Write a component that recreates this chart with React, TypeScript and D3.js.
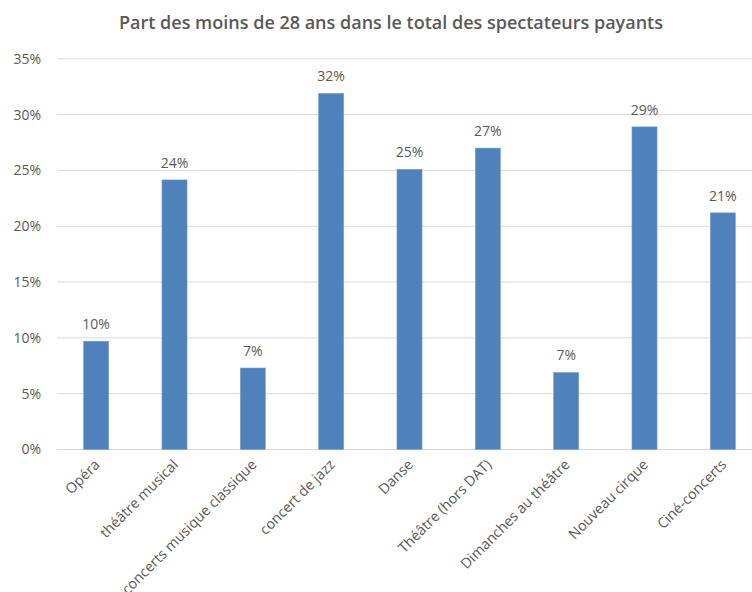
import React from "react";
import * as d3 from "d3";

const categories = [
  "Opéra",
  "théâtre musical",
  "concerts musique classique",
  "concert de jazz",
  "Danse",
  "Théâtre (hors DAT)",
  "Dimanches au théâtre",
  "Nouveau cirque",
  "Ciné-concerts",
];
const values = [0.097, 0.2415, 0.073, 0.319, 0.251, 0.27, 0.069, 0.289, 0.212];
const yTicks = [0, 0.05, 0.1, 0.15, 0.2, 0.25, 0.3, 0.35];
const title = "Part des moins de 28 ans dans le total des spectateurs payants";

const W = 752;
const H = 592;
const FONT = "'Open Sans', sans-serif";
const TXT = "#595959";

export default function App() {
  const x = d3.scaleBand<string>().domain(categories).range([57, 762]).paddingInner(0.68).paddingOuter(0.34);
  const y = d3.scaleLinear().domain([0, 0.35]).range([449.5, 58.8]);
  const pct = d3.format(".0%");
  return (
    <svg width={W} height={H} style={{ position: "absolute", left: 0, top: 0, background: "#fff" }}>
      <rect width={W} height={H} fill="#fff" />
      <text x={391} y={29} textAnchor="middle" fontFamily={FONT} fontSize={18} fontWeight={600} fill={TXT}>
        {title}
      </text>
      {yTicks.map((t) => (
        <g key={t}>
          <line x1={57} x2={752} y1={y(t)} y2={y(t)} stroke="#d9d9d9" strokeWidth={1} />
          <text x={41} y={y(t)} dy="0.35em" textAnchor="end" fontFamily={FONT} fontSize={14} fill={TXT}>
            {pct(t)}
          </text>
        </g>
      ))}
      {categories.map((c, i) => {
        const bx = x(c)!;
        const bw = x.bandwidth();
        const cx = bx + bw / 2;
        return (
          <g key={c}>
            <rect x={bx} y={y(values[i])} width={bw} height={y(0) - y(values[i])} fill="#4F81BD" stroke="#7aa0d0" strokeWidth={0.6} />
            <text x={cx} y={y(values[i]) - 12} textAnchor="middle" fontFamily={FONT} fontSize={14} fill={TXT}>
              {pct(values[i])}
            </text>
            <text
              transform={`translate(${cx + 1},${462}) rotate(-45)`}
              textAnchor="end"
              dy="0.35em"
              fontFamily={FONT}
              fontSize={14.3}
              fill={TXT}
            >
              {c}
            </text>
          </g>
        );
      })}
    </svg>
  );
}
